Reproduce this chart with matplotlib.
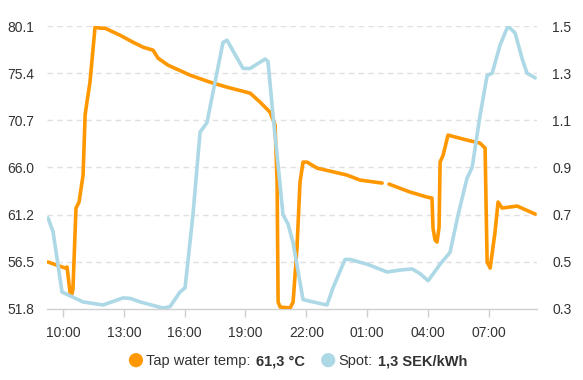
import numpy as np
import matplotlib
matplotlib.use("Agg")
import matplotlib.pyplot as plt
from matplotlib.offsetbox import TextArea, DrawingArea, HPacker, AnchoredOffsetbox
from matplotlib.patches import Circle

plt.rcParams['font.family'] = ['Liberation Sans', 'DejaVu Sans']

# Time in hours since midnight of day 1 (values > 24 are next day)
temp_hours = [9.26, 10.10, 10.20, 10.35, 10.44, 10.49, 10.64, 10.79, 10.99, 11.09, 11.18,
              11.33, 11.58, 11.83, 12.07, 12.81, 13.45, 13.95, 14.44, 14.69, 15.18, 16.27,
              17.25, 18.09, 19.23, 19.72, 20.21, 20.46, 20.56, 20.61, 20.71, 21.20, 21.35,
              21.54, 21.69, 21.84, 22.04, 22.53, 23.17, 24.01, 24.65, 25.74, 25.90, 26.08,
              27.12, 27.96, 28.20, 28.25, 28.35, 28.45, 28.55, 28.60, 28.75, 28.99, 29.93,
              30.57, 30.82, 30.87, 30.92, 31.07, 31.31, 31.46, 31.66, 32.40, 33.29]
temp_values = [56.5, 55.9, 56.0, 53.4, 53.3, 53.8, 61.9, 62.5, 65.2, 71.2, 72.5,
               74.5, 80.0, 79.9, 79.9, 79.2, 78.5, 78.0, 77.7, 76.9, 76.2, 75.2,
               74.5, 74.0, 73.4, 72.5, 71.5, 70.2, 64.5, 52.5, 52.0, 51.9, 52.5,
               57.9, 64.5, 66.5, 66.5, 65.9, 65.6, 65.2, 64.7, 64.4, np.nan, 64.3,
               63.5, 63.0, 62.9, 59.9, 58.7, 58.5, 60.0, 66.5, 67.2, 69.2, 68.7,
               68.4, 67.9, 62.0, 56.5, 55.9, 59.5, 62.5, 61.9, 62.1, 61.3]

spot_hours = [9.26, 9.51, 9.95, 10.49, 10.99, 11.97, 12.57, 12.96, 13.31, 13.80, 14.93,
              15.28, 15.77, 16.02, 16.41, 16.76, 17.10, 17.40, 17.89, 18.09, 18.48, 18.88,
              19.23, 19.97, 20.11, 20.36, 20.61, 20.85, 21.10, 21.35, 21.84, 22.33, 23.02,
              23.32, 23.91, 24.16, 25.00, 25.98, 26.63, 27.22, 27.61, 28.01, 28.60, 29.09,
              29.49, 29.93, 30.18, 30.57, 30.92, 31.17, 31.56, 31.95, 32.30, 32.65, 32.89,
              33.29]
spot_values = [0.686, 0.627, 0.372, 0.35, 0.33, 0.317, 0.335, 0.347, 0.345, 0.33, 0.304,
               0.31, 0.372, 0.39, 0.70, 1.05, 1.09, 1.22, 1.43, 1.44, 1.38, 1.32,
               1.32, 1.36, 1.35, 1.12, 0.91, 0.70, 0.66, 0.58, 0.34, 0.33, 0.317,
               0.39, 0.51, 0.51, 0.49, 0.457, 0.465, 0.47, 0.45, 0.42, 0.49, 0.54,
               0.70, 0.855, 0.90, 1.12, 1.29, 1.30, 1.42, 1.50, 1.47, 1.36, 1.30,
               1.28]

left_ticks = [51.8, 56.5, 61.2, 66.0, 70.7, 75.4, 80.1]
right_ticks = [0.3, 0.5, 0.7, 0.9, 1.1, 1.3, 1.5]
x_ticks = [10, 13, 16, 19, 22, 25, 28, 31]
x_labels = ["10:00", "13:00", "16:00", "19:00", "22:00", "01:00", "04:00", "07:00"]

ORANGE = "#ff9800"
BLUE = "#add8e6"
TXT = "#333333"
GRID = "#e0e0e0"

fig = plt.figure(figsize=(5.83, 3.80), dpi=100)
ax = fig.add_axes([47/583, 71/380, 490/583, 283/380])
ax2 = ax.twinx()

ax.set_xlim(9.21, 33.38)
ax.set_ylim(51.8, 80.12)
ax2.set_ylim(0.3, 1.5)

ax.plot(temp_hours, temp_values, color=ORANGE, lw=2.6, solid_joinstyle='round',
        solid_capstyle='round', zorder=3)
ax2.plot(spot_hours, spot_values, color=BLUE, lw=2.6, solid_joinstyle='round',
         solid_capstyle='round', zorder=3)

ax.set_yticks(np.linspace(51.8, 80.12, 7))
ax.set_yticklabels([f"{v:.1f}" for v in left_ticks])
ax2.set_yticks(right_ticks)
ax2.set_yticklabels([f"{v:.1f}" for v in right_ticks])
ax.set_xticks(x_ticks)
ax.set_xticklabels(x_labels)

for t in np.linspace(51.8, 80.12, 7)[1:]:
    ax.axhline(t, color=GRID, lw=1, ls=(0, (4, 3)), zorder=0)

for a in (ax, ax2):
    for s in a.spines.values():
        s.set_visible(False)
ax.spines['bottom'].set_visible(True)
ax.spines['bottom'].set_color("#d0d0d0")
ax.spines['bottom'].set_linewidth(1)

ax.tick_params(axis='y', length=0, pad=9, labelsize=10, labelcolor=TXT)
ax2.tick_params(axis='y', length=0, pad=11, labelsize=10, labelcolor=TXT)
ax.tick_params(axis='x', length=6, width=1, color="#d0d0d0", pad=6, labelsize=10,
               labelcolor=TXT)

# Legend
def dot(color):
    da = DrawingArea(10, 10, 0, 0)
    da.add_artist(Circle((5, 3.8), 4.6, color=color))
    return da

def gap(w):
    return DrawingArea(w, 1, 0, 0)

fs = 10.5
items = [
    dot(ORANGE), gap(2),
    TextArea("Tap water temp:", textprops=dict(size=fs, color=TXT)), gap(4),
    TextArea("61,3 °C", textprops=dict(size=fs, color=TXT, weight='bold')),
    gap(12),
    dot(BLUE), gap(2),
    TextArea("Spot:", textprops=dict(size=fs, color=TXT)), gap(4),
    TextArea("1,3 SEK/kWh", textprops=dict(size=fs, color=TXT, weight='bold')),
]
pack = HPacker(children=items, pad=0, sep=0, align='baseline')
anch = AnchoredOffsetbox(loc='center', child=pack, frameon=False,
                         bbox_to_anchor=(298/583, 1 - 360/380),
                         bbox_transform=fig.transFigure, pad=0, borderpad=0)
fig.add_artist(anch)

fig.savefig("out.png", dpi=100)
